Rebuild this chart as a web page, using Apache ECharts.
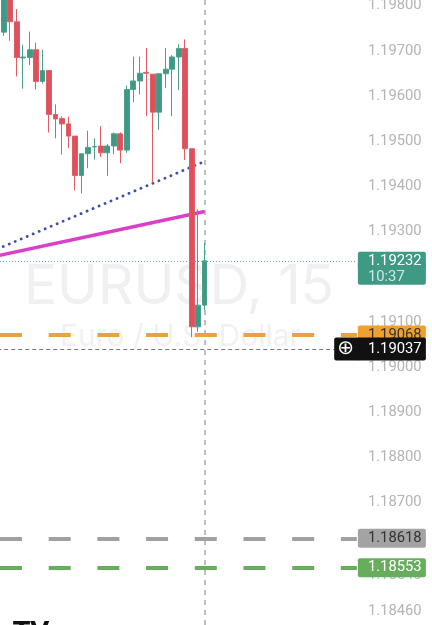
<!DOCTYPE html>
<html><head><meta charset="utf-8">
<style>html,body{margin:0;padding:0;background:#fff}#c{width:432px;height:625px}</style>
<script src="https://cdn.jsdelivr.net/npm/echarts@6/dist/echarts.min.js"></script>
</head><body><div id="c"></div>
<script>
const tickLabels = [1.198,1.197,1.196,1.195,1.194,1.193,1.192,1.191,1.19,1.189,1.188,1.187,1.1862,1.1854,1.1846];
// [open, close, low, high]
const candles = [
 [1.19738,1.19825,1.19730,1.19835],
 [1.19825,1.19761,1.19719,1.19835],
 [1.19761,1.19682,1.19640,1.19789],
 [1.19681,1.19683,1.19613,1.19710],
 [1.19682,1.19699,1.19665,1.19739],
 [1.19699,1.19629,1.19611,1.19715],
 [1.19629,1.19653,1.19624,1.19699],
 [1.19653,1.19556,1.19516,1.19653],
 [1.19556,1.19546,1.19503,1.19578],
 [1.19547,1.19535,1.19467,1.19552],
 [1.19535,1.19508,1.19481,1.19551],
 [1.19508,1.19421,1.19388,1.19508],
 [1.19421,1.19469,1.19381,1.19469],
 [1.19469,1.19483,1.19437,1.19520],
 [1.19484,1.19485,1.19456,1.19503],
 [1.19486,1.19471,1.19462,1.19530],
 [1.19471,1.19486,1.19420,1.19490],
 [1.19486,1.19513,1.19468,1.19516],
 [1.19513,1.19477,1.19448,1.19516],
 [1.19477,1.19611,1.19471,1.19620],
 [1.19611,1.19630,1.19583,1.19684],
 [1.19630,1.19647,1.19600,1.19684],
 [1.19649,1.19647,1.19552,1.19703],
 [1.19645,1.19561,1.19404,1.19645],
 [1.19561,1.19646,1.19522,1.19646],
 [1.19646,1.19656,1.19614,1.19703],
 [1.19656,1.19683,1.19552,1.19687],
 [1.19683,1.19702,1.19610,1.19711],
 [1.19702,1.19480,1.19455,1.19722],
 [1.19480,1.19086,1.19063,1.19480],
 [1.19086,1.19134,1.19075,1.19346],
 [1.19134,1.19232,1.19123,1.19272]
];
const blueLine = [1.19258,1.19452];
const magentaLine = [1.19243,1.19341];
const lastPrice = 1.19232, lastTime = '10:37';
const orangeLevel = 1.19068, crossPrice = 1.19037, grayLevel = 1.18618, greenLevel = 1.18553;
const watermark = 'EURUSD, 15', watermarkSub = 'Euro / U.S. Dollar';

const UP='#3f9a85', DOWN='#e0505a';
const FONT='Roboto';
const FS=14.8;
const N=56;
const CLEAR='rgba(0,0,0,0)';
const cats=Array.from({length:N},(_,i)=>String(i));
const candleData=[['-','-','-','-'],...candles];
const makeTrend=(a)=>{const d=new Array(33).fill(null);d[0]=a[0];d[32]=a[1];return d;};
const dash=[22,26.7];
const lvl=(v,color,bg,txt)=>({yAxis:v,lineStyle:{color,width:4,type:dash,dashOffset:42.7,cap:'butt'},
  label:{show:true,position:'end',distance:1,formatter:v.toFixed(5),backgroundColor:bg,color:txt,fontFamily:FONT,fontSize:FS,
    width:58,lineHeight:17,padding:[2,0,0,10],borderRadius:2,align:'left'}});
const option={
 animation:false,backgroundColor:'#fff',
 title:[
  {text:watermark,left:19,top:255,z:0,textStyle:{color:'#f0f0f2',fontFamily:'Inter',fontWeight:400,fontSize:55}},
  {text:watermarkSub,left:55,top:317,z:0,textStyle:{color:'#f1f1f4',fontFamily:'Inter',fontWeight:400,fontSize:30}}
 ],
 graphic:[{type:'text',left:13,top:620,style:{text:'TV',fill:'#111',font:'900 25px "DejaVu Sans"'}}],
 grid:{left:-6.02,top:0,width:362.9,height:625,outerBoundsMode:'none',containLabel:false},
 xAxis:{type:'category',data:cats,boundaryGap:true,axisLine:{show:false},axisTick:{show:false},axisLabel:{show:false},splitLine:{show:false}},
 yAxis:{type:'value',position:'right',min:1.184263,max:1.198091,axisLine:{show:false},axisTick:{show:false},splitLine:{show:false},
  axisLabel:{customValues:tickLabels,margin:11,verticalAlign:'top',lineHeight:3,color:'#b4b4b4',fontFamily:FONT,fontSize:FS,formatter:v=>v.toFixed(5)}},
 series:[
  {type:'line',data:makeTrend(magentaLine),connectNulls:true,showSymbol:false,symbol:'none',z:3,lineStyle:{color:'#d93fc8',width:3.5},
   markLine:{symbol:'none',silent:true,animation:false,z:1,data:[{xAxis:'32',lineStyle:{color:'#aaa',width:1.5,type:[5,5]},label:{show:false}}]}},
  {type:'line',data:makeTrend(blueLine),connectNulls:true,showSymbol:false,symbol:'none',z:3,lineStyle:{color:'#3d4fa8',width:2.8,type:[0.1,6.4],cap:'round'}},
  {type:'candlestick',data:candleData,barWidth:5.3,z:4,clip:true,
   itemStyle:{color:UP,color0:DOWN,borderColor:'#4aa08c',borderColor0:'#e25c66',borderWidth:1},
   markLine:{symbol:'none',silent:true,animation:false,z:5,precision:6,
    data:[
     lvl(orangeLevel,'#e8a33d','#f0a030','#333'),
     lvl(grayLevel,'#a0a0a0','#a3a3a3','#333'),
     lvl(greenLevel,'#66ae5c','#66ae5c','#fff'),
     {yAxis:lastPrice,lineStyle:{color:'#5fae9c',width:1,type:[1,2]},
      label:{show:true,position:'end',distance:1,verticalAlign:'top',formatter:lastTime,backgroundColor:UP,color:'#cfe7e0',fontFamily:FONT,fontSize:FS,
       width:58,lineHeight:15,padding:[9,0,0,10],borderRadius:2,align:'left'}},
     {yAxis:lastPrice,lineStyle:{color:CLEAR,width:1},
      label:{show:true,position:'end',distance:1,formatter:lastPrice.toFixed(5),backgroundColor:UP,color:'#fff',fontFamily:FONT,fontSize:FS,
       width:58,lineHeight:16,padding:[2,0,0,10],borderRadius:2,align:'left'}},
     [{coord:[0,crossPrice],lineStyle:{color:'#777',width:1,type:[4,3]},
       label:{show:true,position:'end',distance:0,formatter:'\u2295',backgroundColor:'#111',color:'#fff',fontFamily:'DejaVu Sans',fontSize:20,
        width:21,lineHeight:23,padding:[0,0,0,3],align:'left',borderRadius:[2,0,0,2]}},
      {coord:[52,crossPrice]}],
     {yAxis:crossPrice,lineStyle:{color:CLEAR,width:1},
      label:{show:true,position:'end',distance:1,formatter:crossPrice.toFixed(5),backgroundColor:'#111',color:'#fff',fontFamily:FONT,fontSize:FS,
       width:58,lineHeight:23,padding:[0,0,0,10],borderRadius:[0,2,2,0],align:'left'}}
    ]}}
 ]
};
const chart=echarts.init(document.getElementById('c'),null,{renderer:'canvas'});
chart.setOption(option);
</script></body></html>
